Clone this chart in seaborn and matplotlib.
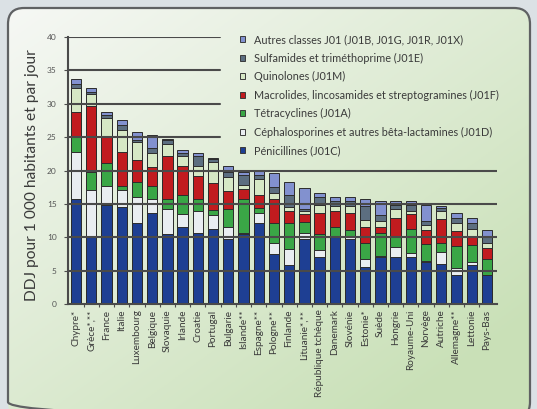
import numpy as np
import pandas as pd
import matplotlib
matplotlib.use("Agg")
import matplotlib.pyplot as plt
from matplotlib.patches import FancyBboxPatch, Patch, Rectangle
import seaborn as sns

sns.set_theme(style="white")
plt.rcParams["font.family"] = ["Lato", "DejaVu Sans"]

countries = ["Chypre*", "Grèce*,**", "France", "Italie", "Luxembourg", "Belgique",
             "Slovaquie", "Irlande", "Croatie", "Portugal", "Bulgarie", "Islande**",
             "Espagne**", "Pologne**", "Finlande", "Lituanie*,**", "République tchèque",
             "Danemark", "Slovénie", "Estonie*", "Suède", "Hongrie", "Royaume-Uni",
             "Norvège", "Autriche", "Allemagne**", "Lettonie", "Pays-Bas"]

# DDJ pour 1 000 habitants et par jour, by antibiotic class
penicillines = [15.7, 10.0, 14.8, 14.5, 12.1, 13.6, 10.5, 11.5, 10.7, 11.2, 9.8, 10.5,
                12.1, 7.5, 5.85, 9.8, 7.0, 10.0, 9.8, 5.5, 7.0, 7.0, 7.0, 6.3, 6.0, 4.3, 5.8, 4.3]
cephalosporines = [7.0, 7.1, 2.9, 2.6, 4.0, 2.1, 3.8, 1.95, 3.3, 2.1, 1.8, 0.1,
                   1.5, 1.7, 2.35, 0.8, 1.1, 0.1, 0.4, 1.3, 0.2, 1.5, 0.7, 0.1, 1.8, 1.1, 0.5, 0.1]
tetracyclines = [2.5, 2.7, 3.4, 0.6, 2.2, 2.0, 1.5, 2.95, 1.8, 0.8, 2.6, 5.1,
                 0.75, 2.9, 4.0, 1.7, 2.4, 1.4, 0.9, 2.3, 3.5, 1.5, 3.5, 2.6, 1.3, 3.3, 2.5, 2.4]
macrolides = [3.6, 9.8, 4.1, 5.0, 3.2, 2.75, 6.4, 4.2, 3.4, 4.1, 2.8, 1.5,
              2.05, 3.7, 1.7, 1.2, 3.1, 2.5, 2.6, 2.5, 0.9, 2.9, 2.3, 2.1, 3.7, 2.3, 1.4, 1.6]
quinolones = [3.6, 1.9, 2.65, 3.4, 2.7, 2.15, 1.8, 1.5, 1.4, 3.1, 2.0, 0.6,
              2.4, 0.8, 0.7, 0.5, 1.2, 0.7, 1.0, 1.0, 0.9, 1.4, 0.4, 0.7, 1.1, 1.2, 1.1, 0.8]
sulfamides = [0.5, 0.3, 0.5, 0.75, 0.4, 0.75, 0.5, 0.5, 1.5, 0.4, 0.8, 1.5,
              0.6, 1.0, 1.75, 0.3, 1.2, 0.7, 0.8, 2.1, 0.85, 0.5, 1.0, 0.6, 0.5, 0.7, 0.9, 0.8]
autres = [0.8, 0.5, 0.35, 0.75, 1.1, 2.0, 0.2, 0.4, 0.5, 0.2, 0.8, 0.5,
          0.5, 2.0, 1.95, 3.15, 0.7, 0.6, 0.6, 1.1, 2.15, 0.7, 0.5, 2.5, 0.3, 0.7, 0.7, 1.1]

class_labels = ["Pénicillines (J01C)",
                "Céphalosporines et autres bêta-lactamines (J01D)",
                "Tétracyclines (J01A)",
                "Macrolides, lincosamides et streptogramines (J01F)",
                "Quinolones (J01M)",
                "Sulfamides et triméthoprime (J01E)",
                "Autres classes J01 (J01B, J01G, J01R, J01X)"]
class_colors = ["#1e3f93", "#e9edf1", "#3aa646", "#c11b1f", "#d6e8c5", "#5c6e80", "#8291cf"]
yticks = [0, 5, 10, 15, 20, 25, 30, 35, 40]

W, H = 537, 409
fig = plt.figure(figsize=(W / 100, H / 100), dpi=100)

# Background: grey frame with a rounded, gradient-filled panel
bg = fig.add_axes([0, 0, 1, 1], zorder=-5)
bg.set_xlim(0, W)
bg.set_ylim(H, 0)
bg.axis("off")
bg.add_patch(Rectangle((0, 0), W, H, color="#dbe1e5"))
panel = FancyBboxPatch((8, 8), 522, 410, boxstyle="round,pad=0,rounding_size=16",
                       facecolor="none", edgecolor="#5f6163", linewidth=1.6, zorder=3)
bg.add_patch(panel)
gx, gy = np.meshgrid(np.linspace(0, 1, 200), np.linspace(0, 1, 160))
t = np.clip(0.55 * gx + 0.6 * gy, 0, 1)
c0 = np.array([0.965, 0.972, 0.960])
c1 = np.array([0.790, 0.880, 0.720])
img = c0 + (c1 - c0) * t[..., None]
im = bg.imshow(img, extent=(8, 530, 418, 8), aspect="auto", zorder=1)
clip = FancyBboxPatch((8, 8), 522, 410, boxstyle="round,pad=0,rounding_size=16",
                      transform=bg.transData, facecolor="none", edgecolor="none")
bg.add_patch(clip)
im.set_clip_path(clip)

# Main chart
ax = fig.add_axes([68 / W, 1 - 304 / H, (497 - 68) / W, (304 - 37) / H])
ax.patch.set_alpha(0)

df = pd.DataFrame({"pays": countries})
layers = [penicillines, cephalosporines, tetracyclines, macrolides,
          quinolones, sulfamides, autres]
cum = np.cumsum(np.array(layers), axis=0)
for i in range(len(layers) - 1, -1, -1):
    df["total"] = cum[i]
    sns.barplot(data=df, x="pays", y="total", order=countries, color=class_colors[i],
                saturation=1, width=0.68, edgecolor="#2c2c2c", linewidth=0.7, ax=ax)

ax.set_xlim(-0.53, len(countries) - 0.34)
ax.set_ylim(0, 40)
ax.set_xlabel("")
ax.set_ylabel("")

# Horizontal rules; the upper ones stop short of the legend
for v in yticks[1:]:
    xmax = 0.355 if v > 20 else 1.0
    ax.axhline(v, xmin=0, xmax=xmax, color="#4a4a4a", linewidth=1.5, zorder=5)

for s in ["top", "right"]:
    ax.spines[s].set_visible(False)
for s in ["left", "bottom"]:
    ax.spines[s].set_color("#4a4a4a")
    ax.spines[s].set_linewidth(1.5)
    ax.spines[s].set_zorder(6)

ax.set_yticks(yticks)
ax.set_yticklabels([str(v) for v in yticks], fontsize=6, color="#555555")
ax.tick_params(axis="y", length=3, width=0.8, color="#4d4d4d", pad=5, left=True)
ax.set_xticks(range(len(countries)))
ax.set_xticklabels(countries, rotation=90, fontsize=7.2, color="#3a3a3a")
ax.tick_params(axis="x", length=0, pad=4)
ax.set_xticks(np.arange(len(countries) - 1) + 0.5, minor=True)
ax.tick_params(axis="x", which="minor", length=2.5, width=0.8, color="#4d4d4d",
               bottom=True)

fig.text(32 / W, 1 - 175 / H, "DDJ pour 1 000 habitants et par jour", rotation=90,
         ha="center", va="center", fontsize=11.2, color="#3a3a3a")

handles = [Patch(facecolor=class_colors[i], edgecolor="#3a3a3a", linewidth=0.7,
                 label=class_labels[i]) for i in range(len(layers) - 1, -1, -1)]
fig.legend(handles=handles, loc="upper left", bbox_to_anchor=(240 / W, 1 - 34 / H),
           frameon=False, fontsize=7.8, labelcolor="#3a3a3a", handlelength=0.5,
           handleheight=0.5, handletextpad=0.8, labelspacing=0.69, borderpad=0,
           borderaxespad=0)

fig.savefig("out.png", dpi=100)
